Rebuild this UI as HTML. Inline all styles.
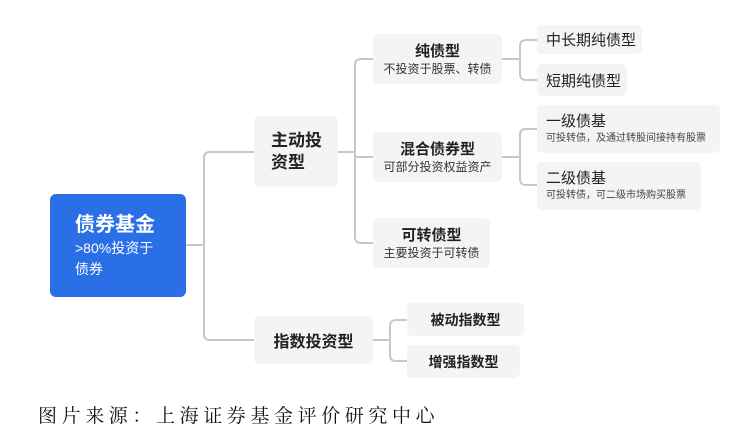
<!DOCTYPE html>
<html><head><meta charset="utf-8"><style>
body{margin:0;width:745px;height:436px;background:#fff;position:relative;overflow:hidden;font-family:"Liberation Sans","Noto Sans CJK SC",sans-serif;}
.n{position:absolute;background:#f3f4f6;border-radius:5px;color:#222;box-sizing:border-box;}
.c{text-align:center;display:flex;flex-direction:column;justify-content:center;}
.t{font-weight:bold;font-size:15px;line-height:19px;}
.s{font-size:12px;line-height:16px;color:#333;}
.l{display:flex;flex-direction:column;justify-content:center;padding-left:9px;}
svg{position:absolute;left:0;top:0;}
</style></head><body>
<svg width="745" height="436"><g fill="none" stroke="#c8c8c8" stroke-width="2">
<path d="M186 245H204M254 152H210Q204 152 204 158V334Q204 340 210 340H254"/>
<path d="M338 152H355M373 59H361Q355 59 355 65V237Q355 243 361 243H373M355 157H373"/>
<path d="M502 59H520M537 40H526Q520 40 520 46V74Q520 80 526 80H537"/>
<path d="M502 157H520M537 129H526Q520 129 520 135V179Q520 185 526 185H537"/>
<path d="M373 340H390M407 320H396Q390 320 390 326V355Q390 361 396 361H407"/>
</g></svg>
<div class="n" style="left:50px;top:194px;width:136px;height:103px;background:#2a6fe6;color:#fff;padding:18px 0 0 25px;border-radius:6px">
<div style="font-size:20px;font-weight:bold;line-height:26px">债券基金</div>
<div style="font-size:14px;line-height:21px">&gt;80%投资于<br>债券</div></div>
<div class="n" style="left:254px;top:116px;width:84px;height:71px;padding:14px 0 0 17px;font-size:17px;font-weight:bold;line-height:22px">主动投<br>资型</div>
<div class="n c" style="left:373px;top:34px;width:129px;height:50px"><div class="t">纯债型</div><div class="s">不投资于股票、转债</div></div>
<div class="n c" style="left:373px;top:132px;width:129px;height:50px"><div class="t">混合债券型</div><div class="s">可部分投资权益资产</div></div>
<div class="n c" style="left:373px;top:218px;width:117px;height:50px"><div class="t">可转债型</div><div class="s">主要投资于可转债</div></div>
<div class="n l" style="left:537px;top:25px;width:105px;height:29px;font-size:15px">中长期纯债型</div>
<div class="n l" style="left:537px;top:64px;width:90px;height:32px;font-size:15px">短期纯债型</div>
<div class="n l" style="left:537px;top:105px;width:183px;height:48px"><div style="font-size:15px;line-height:19px">一级债基</div><div style="font-size:10px;line-height:15px;color:#444">可投转债，及通过转股间接持有股票</div></div>
<div class="n l" style="left:537px;top:162px;width:164px;height:48px"><div style="font-size:15px;line-height:19px">二级债基</div><div style="font-size:10px;line-height:15px;color:#444">可投转债，可二级市场购买股票</div></div>
<div class="n c" style="left:254px;top:316px;width:119px;height:48px;font-size:16px;font-weight:bold">指数投资型</div>
<div class="n c" style="left:407px;top:303px;width:117px;height:33px;font-size:14px;font-weight:bold">被动指数型</div>
<div class="n c" style="left:407px;top:345px;width:113px;height:33px;font-size:14px;font-weight:bold">增强指数型</div>
<div style="position:absolute;left:38px;top:401px;font-family:'Liberation Serif','Noto Serif CJK SC',serif;font-size:19px;letter-spacing:4.6px;color:#111;white-space:nowrap">图片来源：上海证券基金评价研究中心</div>
</body></html>
